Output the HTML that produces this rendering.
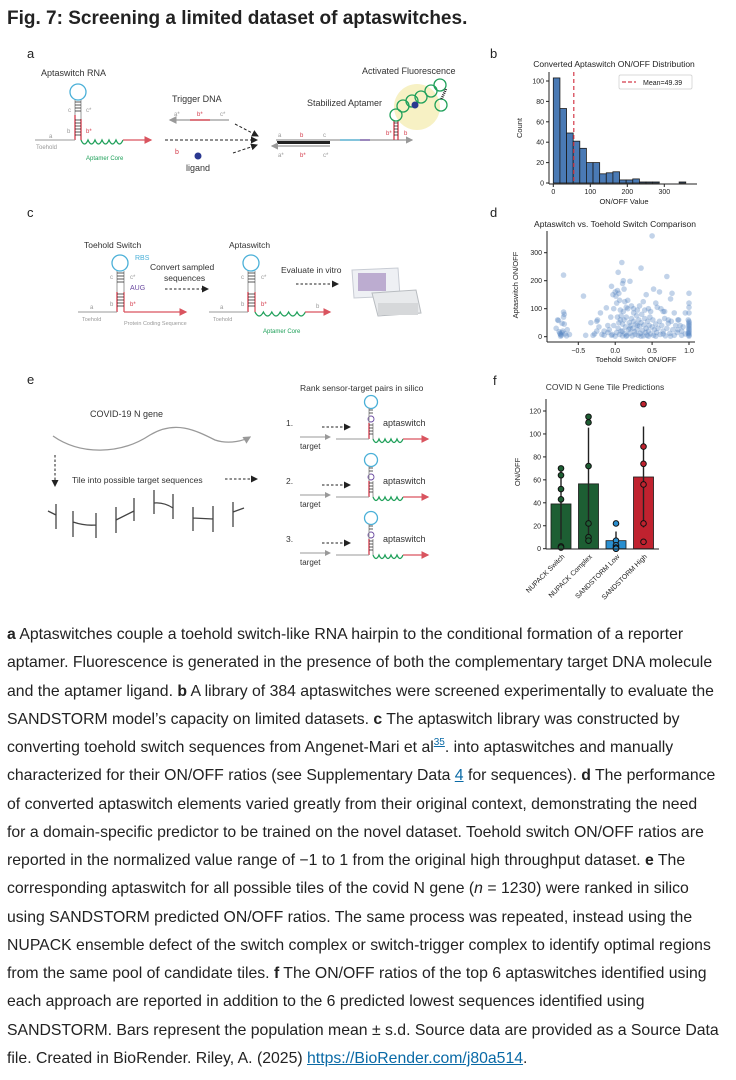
<!DOCTYPE html>
<html><head><meta charset="utf-8">
<style>
html,body{margin:0;padding:0;background:#fff;}
body{width:736px;height:1080px;position:relative;overflow:hidden;font-family:"Liberation Sans",sans-serif;}
#title{position:absolute;left:7px;top:8px;font-size:19px;font-weight:bold;color:#222;}
#fig{position:absolute;left:0;top:0;}
#caption{position:absolute;left:7px;top:621px;font-size:15.8px;line-height:28.25px;color:#222;white-space:nowrap;}
#caption sup{line-height:0;vertical-align:7px;font-size:10px;}
#caption a{color:#0a6aa6;text-decoration:underline;}
svg text{font-family:"Liberation Sans",sans-serif;}
</style></head>
<body>
<div id="title">Fig. 7: Screening a limited dataset of aptaswitches.</div>
<svg id="fig" width="736" height="615" viewBox="0 0 736 615">
<defs>
<marker id="ag" markerWidth="6" markerHeight="6" refX="5" refY="3" orient="auto"><path d="M0,0L6,3L0,6z" fill="#999"/></marker>
<marker id="ar" markerWidth="6" markerHeight="6" refX="5" refY="3" orient="auto"><path d="M0,0L6,3L0,6z" fill="#d9545f"/></marker>
<marker id="ak" markerWidth="7" markerHeight="7" refX="6" refY="3.5" orient="auto"><path d="M0,0L7,3.5L0,7z" fill="#222"/></marker>
</defs>
<g font-size="8">
<text x="27" y="58" font-size="13" fill="#222">a</text>
<text x="41" y="76" font-size="9" fill="#333">Aptaswitch RNA</text>
<circle cx="78" cy="92" r="8" fill="none" stroke="#4ab0d8" stroke-width="1.3"/>
<line x1="75" y1="100" x2="75" y2="140" stroke="#999"/><line x1="81" y1="100" x2="81" y2="140" stroke="#999"/>
<line x1="75" y1="115" x2="75" y2="140" stroke="#d43a4a" stroke-width="1.3"/><line x1="81" y1="119" x2="81" y2="140" stroke="#d43a4a" stroke-width="1.3"/>
<path d="M75,102h6M75,105h6M75,108h6M75,111h6M75,120h6M75,123h6M75,126h6M75,129h6M75,132h6M75,135h6" stroke="#222" stroke-width="0.8"/>
<line x1="35" y1="140" x2="75" y2="140" stroke="#999"/>
<path d="M81,140 q3.5,8 7,0 q3.5,8 7,0 q3.5,8 7,0 q3.5,8 7,0 q3.5,8 7,0 q3.5,8 7,0" fill="none" stroke="#1fa05a" stroke-width="1.3"/>
<line x1="123" y1="140" x2="151" y2="140" stroke="#d9545f" stroke-width="1.3" marker-end="url(#ar)"/>
<text x="49" y="138" fill="#999" font-size="6">a</text><text x="67" y="133" fill="#999" font-size="6">b</text>
<text x="68" y="112" fill="#999" font-size="6">c</text><text x="86" y="112" fill="#999" font-size="6">c*</text>
<text x="86" y="133" fill="#d43a4a" font-size="6">b*</text>
<text x="36" y="149" fill="#999" font-size="6">Toehold</text>
<text x="86" y="160" fill="#1fa05a" font-size="6">Aptamer Core</text>
<text x="172" y="102" font-size="9" fill="#333">Trigger DNA</text>
<line x1="229" y1="120" x2="170" y2="120" stroke="#999" stroke-width="1.3" marker-end="url(#ag)"/>
<line x1="190" y1="120" x2="210" y2="120" stroke="#d9545f" stroke-width="1.5"/>
<text x="174" y="116" fill="#999" font-size="6">a*</text><text x="197" y="116" fill="#d43a4a" font-size="6">b*</text><text x="220" y="116" fill="#999" font-size="6">c*</text>
<path d="M235,124 L258,136" stroke="#222" stroke-dasharray="3,2" marker-end="url(#ak)"/>
<path d="M165,140 L257,140" stroke="#222" stroke-dasharray="3,2" marker-end="url(#ak)"/>
<path d="M233,153 L257,145" stroke="#222" stroke-dasharray="3,2" marker-end="url(#ak)"/>
<text x="175" y="154" fill="#d43a4a" font-size="7">b</text>
<circle cx="198" cy="156" r="3.5" fill="#2a3890"/>
<text x="186" y="171" font-size="9" fill="#333">ligand</text>
<line x1="276" y1="140" x2="412" y2="140" stroke="#999" stroke-width="1.2" marker-end="url(#ag)"/>
<line x1="340" y1="140" x2="360" y2="140" stroke="#4ab0d8" stroke-width="1.2"/>
<line x1="360" y1="140" x2="370" y2="140" stroke="#6a4aa0" stroke-width="1.2"/>
<rect x="277" y="141" width="53" height="3" fill="#222"/>
<line x1="330" y1="146" x2="272" y2="146" stroke="#999" stroke-width="1.2" marker-end="url(#ag)"/>
<text x="278" y="137" fill="#999" font-size="6">a</text><text x="300" y="137" fill="#d43a4a" font-size="6">b</text><text x="323" y="137" fill="#999" font-size="6">c</text>
<text x="278" y="157" fill="#999" font-size="6">a*</text><text x="300" y="157" fill="#d43a4a" font-size="6">b*</text><text x="323" y="157" fill="#999" font-size="6">c*</text>
<text x="386" y="135" fill="#d43a4a" font-size="6">b*</text><text x="404" y="135" fill="#d43a4a" font-size="6">b</text>
<circle cx="417" cy="107" r="23" fill="#f7f1c4"/>
<line x1="394" y1="120" x2="394" y2="140" stroke="#d43a4a" stroke-width="1.3"/><line x1="398" y1="120" x2="398" y2="140" stroke="#d43a4a" stroke-width="1.3"/>
<path d="M394,123h4M394,126h4M394,129h4M394,132h4M394,135h4" stroke="#222" stroke-width="0.8"/>
<g fill="none" stroke="#1fa05a" stroke-width="1.3">
<circle cx="396" cy="115" r="6"/><circle cx="403" cy="106" r="6"/><circle cx="412" cy="101" r="6"/><circle cx="421" cy="97" r="6"/><circle cx="431" cy="91" r="6"/><circle cx="440" cy="85" r="6"/><circle cx="441" cy="105" r="6"/>
</g>
<path d="M446,89 L441,100" stroke="#222" stroke-width="2.5" stroke-dasharray="1,1"/>
<circle cx="415" cy="105" r="3.5" fill="#2a3890"/>
<text x="307" y="106" font-size="9" fill="#333">Stabilized Aptamer</text>
<text x="362" y="74" font-size="9" fill="#333">Activated Fluorescence</text>
</g>
<g>
<text x="27" y="217" font-size="13" fill="#222">c</text>
<text x="84" y="248" font-size="8.5" fill="#333">Toehold Switch</text>
<circle cx="120" cy="263" r="8" fill="none" stroke="#4ab0d8" stroke-width="1.3"/>
<line x1="117" y1="271" x2="117" y2="312" stroke="#999"/><line x1="124" y1="271" x2="124" y2="312" stroke="#999"/>
<line x1="117" y1="292" x2="117" y2="312" stroke="#d43a4a" stroke-width="1.3"/><line x1="124" y1="292" x2="124" y2="312" stroke="#d9545f" stroke-width="1.3"/>
<path d="M117,273h7M117,276h7M117,279h7M117,282h7M117,294h7M117,297h7M117,300h7M117,303h7M117,306h7" stroke="#222" stroke-width="0.8"/>
<line x1="78" y1="312" x2="117" y2="312" stroke="#999"/>
<line x1="124" y1="312" x2="186" y2="312" stroke="#d9545f" stroke-width="1.3" marker-end="url(#ar)"/>
<text x="135" y="260" font-size="7" fill="#4ab0d8">RBS</text>
<text x="130" y="290" font-size="7" fill="#6a4aa0">AUG</text>
<text x="110" y="279" font-size="6" fill="#999">c</text><text x="130" y="279" font-size="6" fill="#999">c*</text>
<text x="110" y="306" font-size="6" fill="#999">b</text><text x="130" y="306" font-size="6" fill="#d43a4a">b*</text>
<text x="90" y="309" font-size="6" fill="#999">a</text>
<text x="82" y="321" font-size="5.5" fill="#999">Toehold</text>
<text x="124" y="325" font-size="5.5" fill="#999">Protein Coding Sequence</text>
<text x="150" y="270" font-size="8.5" fill="#333">Convert sampled</text>
<text x="164" y="281" font-size="8.5" fill="#333">sequences</text>
<path d="M165,289 L208,289" stroke="#222" stroke-dasharray="2.5,2" marker-end="url(#ak)"/>
<text x="229" y="248" font-size="8.5" fill="#333">Aptaswitch</text>
<circle cx="251" cy="263" r="8" fill="none" stroke="#4ab0d8" stroke-width="1.3"/>
<line x1="248" y1="271" x2="248" y2="312" stroke="#999"/><line x1="255" y1="271" x2="255" y2="312" stroke="#999"/>
<line x1="248" y1="292" x2="248" y2="312" stroke="#d43a4a" stroke-width="1.3"/><line x1="255" y1="292" x2="255" y2="312" stroke="#d9545f" stroke-width="1.3"/>
<path d="M248,273h7M248,276h7M248,279h7M248,282h7M248,294h7M248,297h7M248,300h7M248,303h7M248,306h7" stroke="#222" stroke-width="0.8"/>
<line x1="209" y1="312" x2="248" y2="312" stroke="#999"/>
<path d="M255,312 q4.2,8 8.4,0 q4.2,8 8.4,0 q4.2,8 8.4,0 q4.2,8 8.4,0 q4.2,8 8.4,0 q4.2,8 8.4,0" fill="none" stroke="#1fa05a" stroke-width="1.3"/>
<line x1="305" y1="312" x2="330" y2="312" stroke="#d9545f" stroke-width="1.3" marker-end="url(#ar)"/>
<text x="241" y="279" font-size="6" fill="#999">c</text><text x="261" y="279" font-size="6" fill="#999">c*</text>
<text x="241" y="306" font-size="6" fill="#999">b</text><text x="261" y="306" font-size="6" fill="#d43a4a">b*</text>
<text x="220" y="309" font-size="6" fill="#999">a</text><text x="316" y="308" font-size="6" fill="#999">b</text>
<text x="213" y="321" font-size="5.5" fill="#999">Toehold</text>
<text x="263" y="333" font-size="6" fill="#1fa05a">Aptamer Core</text>
<text x="281" y="273" font-size="8.5" fill="#333">Evaluate in vitro</text>
<path d="M296,284 L338,284" stroke="#222" stroke-dasharray="2.5,2" marker-end="url(#ak)"/>
<polygon points="352,270 398,268 400,296 354,298" fill="#eef0f4" stroke="#c8ccd4"/>
<g fill="#9b7fb8"><rect x="358" y="273" width="28" height="18" opacity="0.6"/></g>
<polygon points="372,293 416,290 421,313 378,316" fill="#e8eaec" stroke="#b8bcc0"/>
<rect x="378" y="303" width="40" height="12" fill="#d6d8da"/>
</g>
<g>
<text x="27" y="384" font-size="13" fill="#222">e</text>
<text x="90" y="417" font-size="9" fill="#333">COVID-19 N gene</text>
<path d="M53,436 C80,455 120,455 150,435 C175,420 195,430 215,440 C230,445 245,440 250,437" fill="none" stroke="#999" stroke-width="1.3" marker-end="url(#ag)"/>
<path d="M55,455 L55,486" stroke="#222" stroke-dasharray="2.5,2" marker-end="url(#ak)"/>
<text x="72" y="483" font-size="8.5" fill="#333">Tile into possible target sequences</text>
<path d="M225,479 L257,479" stroke="#222" stroke-dasharray="2.5,2" marker-end="url(#ak)"/>
<g stroke="#444" stroke-width="1.3" fill="none">
<path d="M56,504 L56,529 M48,511 L56,515"/>
<path d="M73,511 L73,537 M96,513 L96,538 M73,522 Q85,526 96,525"/>
<path d="M116,507 L116,533 M134,498 L134,521 M116,520 L134,511"/>
<path d="M154,490 L154,514 M173,494 L173,519 M154,503 Q164,502 173,508"/>
<path d="M193,507 L193,531 M213,506 L213,532 M193,518 L213,519"/>
<path d="M233,502 L233,527 M233,512 L244,508"/>
</g>
<text x="300" y="391" font-size="8.5" fill="#333">Rank sensor-target pairs in silico</text>
<g id="rows"></g>
</g>
<g id="chartB"></g>
<g id="chartD"></g>
<g id="chartF"></g>
</svg>
<div id="caption"><b>a</b> Aptaswitches couple a toehold switch-like RNA hairpin to the conditional formation of a reporter<br>aptamer. Fluorescence is generated in the presence of both the complementary target DNA molecule<br>and the aptamer ligand. <b>b</b> A library of 384 aptaswitches were screened experimentally to evaluate the<br>SANDSTORM model’s capacity on limited datasets. <b>c</b> The aptaswitch library was constructed by<br>converting toehold switch sequences from Angenet-Mari et al<sup><a>35</a></sup>. into aptaswitches and manually<br>characterized for their ON/OFF ratios (see Supplementary Data <a>4</a> for sequences). <b>d</b> The performance<br>of converted aptaswitch elements varied greatly from their original context, demonstrating the need<br>for a domain-specific predictor to be trained on the novel dataset. Toehold switch ON/OFF ratios are<br>reported in the normalized value range of −1 to 1 from the original high throughput dataset. <b>e</b> The<br>corresponding aptaswitch for all possible tiles of the covid N gene (<i>n</i> = 1230) were ranked in silico<br>using SANDSTORM predicted ON/OFF ratios. The same process was repeated, instead using the<br>NUPACK ensemble defect of the switch complex or switch-trigger complex to identify optimal regions<br>from the same pool of candidate tiles. <b>f</b> The ON/OFF ratios of the top 6 aptaswitches identified using<br>each approach are reported in addition to the 6 predicted lowest sequences identified using<br>SANDSTORM. Bars represent the population mean ± s.d. Source data are provided as a Source Data<br>file. Created in BioRender. Riley, A. (2025) <a>https://BioRender.com/j80a514</a>.</div>
<script>
const histCounts = [103,73,49,41,34,20,20,9,10,11,3,3,4,1,1,1,0,0,0,1];
const histBinWidth = 17.9;
const histMean = 49.39;
const histYTicks = [0,20,40,60,80,100];
const histXTicks = [0,100,200,300];
const scatterX = [-0.78,-0.77,-0.8,-0.76,-0.75,-0.74,-0.73,-0.72,-0.71,-0.7,-0.7,-0.69,-0.7,-0.69,-0.72,-0.68,-0.65,-0.62,-0.74,-0.66,
-0.43,-0.4,-0.33,-0.28,-0.25,-0.24,-0.22,-0.2,-0.18,-0.15,-0.12,-0.1,-0.08,-0.06,-0.05,-0.04,-0.03,-0.02,0.0,0.01,0.02,0.03,0.04,0.05,0.06,0.07,0.08,0.09,0.1,0.11,0.12,0.13,0.15,0.17,0.2,0.22,0.25,0.3,0.35,0.38,0.42,0.45,0.5,0.52,0.55,0.6,0.62,0.65,0.7,0.72,0.75,0.77,0.8,0.85,0.88,0.9,0.95,
1,1,1,1,1,1,1,1,1,1,1,1,1,1,1,1,0.99,0.99,
-0.05,0,0.02,0.04,0.05,0.06,0.08,0.1,0.1,0.12,0.13,0.14,0.15,0.16,0.18,0.19,0.2,0.21,0.22,0.23,0.24,0.25,0.26,0.27,0.28,0.29,0.3,0.31,0.32,0.33,0.34,0.35,0.36,0.37,0.38,0.39,0.4,0.41,0.42,0.43,0.44,0.45,0.46,0.47,0.48,0.5,0.51,0.52,0.53,0.55,0.56,0.58,0.6,0.61,0.63,0.65,0.67,0.68,0.7,0.72,0.74,0.76,0.78,0.8,0.82,0.84,0.86,0.9,0.92,0.95,-0.02,0.03,0.07,0.11,0.17,0.25,0.33,0.4,0.48,0.57,0.67,0.1,0.2,0.3,0.15,0.35,0.45,0.55,0.65,0.75,0.85,-0.15,-0.1,-0.3,-0.25];
const scatterY = [60,58,30,18,12,8,5,15,20,220,88,80,70,45,48,10,25,8,2,3,
145,5,50,10,55,60,35,85,8,20,103,40,25,70,180,8,150,100,160,145,120,165,230,155,130,95,75,265,190,200,170,125,105,130,198,110,85,95,245,125,150,100,360,170,120,160,100,90,215,60,135,155,85,60,40,20,85,
155,120,105,85,55,50,45,40,35,30,25,20,15,10,5,2,60,12,
5,2,15,30,50,8,20,45,3,60,10,35,70,5,25,50,12,40,65,3,30,55,18,8,45,75,25,5,60,38,12,50,80,22,3,42,65,15,30,5,55,20,40,70,10,35,60,5,25,45,15,30,55,8,40,20,65,3,30,48,12,55,25,5,40,15,60,5,35,10,40,70,60,90,100,100,110,95,90,105,90,20,30,40,2,2,2,2,10,2,25,5,15,5,20];
const scatterXTicks = [-0.5,0.0,0.5,1.0];
const scatterYTicks = [0,100,200,300];
const barCats = ["NUPACK Switch","NUPACK Complex","SANDSTORM Low","SANDSTORM High"];
const barMeans = [39,56.5,7,62.5];
const barSD = [31,49,8,44];
const barPoints = [[70,64,52,43,2,1],[115,110,72,22,10,7],[22,7,3,1,0,0],[126,89,74,56,22,6]];
const barColors = ["#1d5e33","#1d5e33","#2a8fd0","#c0222f"];
const barYTicks = [0,20,40,60,80,100,120];

const NS="http://www.w3.org/2000/svg";
function mk(parent,tag,attrs,txt){const e=document.createElementNS(NS,tag);for(const k in attrs)e.setAttribute(k,attrs[k]);if(txt!==undefined)e.textContent=txt;parent.appendChild(e);return e;}

(function(){
  const g=document.getElementById('rows');
  [0,1,2].forEach(i=>{
    const dy=i*58;
    const r=mk(g,'g',{});
    
    
    mk(r,'text',{x:286,y:426+dy,'font-size':8.5,fill:'#333'},(i+1)+'.');
    mk(r,'path',{d:`M322,${427+dy} L350,${427+dy}`,stroke:'#222','stroke-dasharray':'2.5,2','marker-end':'url(#ak)'});
    mk(r,'line',{x1:300,y1:437+dy,x2:330,y2:437+dy,stroke:'#999','marker-end':'url(#ag)'});
    mk(r,'text',{x:300,y:449+dy,'font-size':8,fill:'#333'},'target');
    mk(r,'circle',{cx:371,cy:402+dy,r:6.5,fill:'none',stroke:'#4ab0d8','stroke-width':1.3});
    mk(r,'circle',{cx:371,cy:419+dy,r:3,fill:'none',stroke:'#6a4aa0','stroke-width':0.9});
    mk(r,'line',{x1:369,y1:408+dy,x2:369,y2:439+dy,stroke:'#999'});
    mk(r,'line',{x1:369,y1:423+dy,x2:369,y2:439+dy,stroke:'#d43a4a','stroke-width':1.3});
    mk(r,'line',{x1:373,y1:423+dy,x2:373,y2:439+dy,stroke:'#999'});
    mk(r,'path',{d:`M369,${410+dy}h4M369,${413+dy}h4M369,${425+dy}h4M369,${428+dy}h4M369,${431+dy}h4M369,${434+dy}h4`,stroke:'#222','stroke-width':0.8});
    mk(r,'line',{x1:336,y1:439+dy,x2:369,y2:439+dy,stroke:'#999'});
    mk(r,'path',{d:`M373,${439+dy} q3,7 6,0 q3,7 6,0 q3,7 6,0 q3,7 6,0 q3,7 6,0`,fill:'none',stroke:'#1fa05a','stroke-width':1.3});
    mk(r,'line',{x1:403,y1:439+dy,x2:428,y2:439+dy,stroke:'#d9545f','stroke-width':1.3,'marker-end':'url(#ar)'});
    mk(r,'text',{x:383,y:426+dy,'font-size':9,fill:'#333'},'aptaswitch');
  });
})();

(function(){
  const g=document.getElementById('chartB');
  const x=v=>553.3+v*0.37, y=c=>183-c*1.02;
  mk(g,'text',{x:490,y:58,'font-size':13,fill:'#222'},'b');
  mk(g,'text',{x:614,y:67,'font-size':8.5,'text-anchor':'middle',fill:'#222'},'Converted Aptaswitch ON/OFF Distribution');
  histCounts.forEach((c,i)=>{
    const b=mk(g,'rect',{x:x(i*histBinWidth),y:y(c),width:histBinWidth*0.37,height:c*1.02,fill:'#4a7ab5',stroke:'#1a1a1a','stroke-width':0.8});
    
    
  });
  mk(g,'line',{x1:x(histMean+6),y1:72,x2:x(histMean+6),y2:183,stroke:'#d43a4a','stroke-width':1.2,'stroke-dasharray':'4,3'});
  mk(g,'line',{x1:549,y1:72,x2:549,y2:184,stroke:'#222'});
  mk(g,'line',{x1:549,y1:184,x2:697,y2:184,stroke:'#222'});
  histYTicks.forEach(t=>{mk(g,'line',{x1:546,y1:y(t),x2:549,y2:y(t),stroke:'#222'});mk(g,'text',{x:544,y:y(t)+2.5,'font-size':7,'text-anchor':'end',fill:'#222'},t);});
  histXTicks.forEach(t=>{mk(g,'line',{x1:x(t),y1:184,x2:x(t),y2:187,stroke:'#222'});mk(g,'text',{x:x(t),y:194,'font-size':7,'text-anchor':'middle',fill:'#222'},t);});
  mk(g,'text',{x:624,y:204,'font-size':7.5,'text-anchor':'middle',fill:'#222'},'ON/OFF Value');
  mk(g,'text',{x:522,y:128,'font-size':7.5,'text-anchor':'middle',fill:'#222',transform:'rotate(-90 522 128)'},'Count');
  const lg=mk(g,'g',{});
  
  
  mk(lg,'rect',{x:619,y:75,width:73,height:14,fill:'#fff',stroke:'#ccc','stroke-width':0.7,rx:1.5});
  mk(lg,'line',{x1:622,y1:82,x2:636,y2:82,stroke:'#d43a4a','stroke-width':1.2,'stroke-dasharray':'4,2'});
  mk(lg,'text',{x:643,y:85,'font-size':7,fill:'#222'},'Mean='+histMean.toFixed(2));
})();

(function(){
  const g=document.getElementById('chartD');
  const x=v=>615.2+v*73.8, y=v=>336.7-v*0.28;
  mk(g,'text',{x:490,y:217,'font-size':13,fill:'#222'},'d');
  mk(g,'text',{x:615,y:227,'font-size':8.5,'text-anchor':'middle',fill:'#222'},'Aptaswitch vs. Toehold Switch Comparison');
  scatterX.forEach((v,i)=>{
    const c=mk(g,'circle',{cx:x(v),cy:y(scatterY[i]),r:2.8,fill:'#4f82c0','fill-opacity':0.35});
    
    
  });
  mk(g,'line',{x1:547,y1:231,x2:547,y2:342,stroke:'#222'});
  mk(g,'line',{x1:547,y1:342,x2:695,y2:342,stroke:'#222'});
  scatterYTicks.forEach(t=>{mk(g,'line',{x1:544,y1:y(t),x2:547,y2:y(t),stroke:'#222'});mk(g,'text',{x:542,y:y(t)+2.5,'font-size':7,'text-anchor':'end',fill:'#222'},t);});
  scatterXTicks.forEach(t=>{mk(g,'line',{x1:x(t),y1:342,x2:x(t),y2:345,stroke:'#222'});mk(g,'text',{x:x(t),y:353,'font-size':7,'text-anchor':'middle',fill:'#222'},(t<0?'\u2212':'')+Math.abs(t).toFixed(1));});
  mk(g,'text',{x:636,y:362,'font-size':7.5,'text-anchor':'middle',fill:'#222'},'Toehold Switch ON/OFF');
  mk(g,'text',{x:518,y:285,'font-size':7.5,'text-anchor':'middle',fill:'#222',transform:'rotate(-90 518 285)'},'Aptaswitch ON/OFF');
})();

(function(){
  const g=document.getElementById('chartF');
  const y=v=>548.7-v*1.1475;
  const cx=i=>561+i*27.5;
  mk(g,'text',{x:493,y:385,'font-size':13,fill:'#222'},'f');
  mk(g,'text',{x:605,y:390,'font-size':8.5,'text-anchor':'middle',fill:'#333'},'COVID N Gene Tile Predictions');
  barMeans.forEach((m,i)=>{
    const b=mk(g,'rect',{x:cx(i)-10,y:y(m),width:20,height:m*1.1475,fill:barColors[i],stroke:'#1a1a1a','stroke-width':0.8});
    
    
    mk(g,'line',{x1:cx(i),y1:y(Math.max(0,m-barSD[i])),x2:cx(i),y2:y(m+barSD[i]),stroke:'#222','stroke-width':1.4});
    barPoints[i].forEach(p=>{
      const c=mk(g,'circle',{cx:cx(i),cy:y(p),r:2.8,fill:barColors[i],stroke:'#111','stroke-width':1});
      
      
    });
    mk(g,'text',{x:cx(i)+4,y:557,'font-size':7,'text-anchor':'end',fill:'#222',transform:`rotate(-45 ${cx(i)+4} 557)`},barCats[i]);
  });
  mk(g,'line',{x1:546,y1:399,x2:546,y2:549,stroke:'#222'});
  mk(g,'line',{x1:546,y1:549,x2:659,y2:549,stroke:'#222'});
  barYTicks.forEach(t=>{mk(g,'line',{x1:543,y1:y(t),x2:546,y2:y(t),stroke:'#222'});mk(g,'text',{x:541,y:y(t)+2.5,'font-size':7,'text-anchor':'end',fill:'#222'},t);});
  mk(g,'text',{x:520,y:472,'font-size':7.5,'text-anchor':'middle',fill:'#222',transform:'rotate(-90 520 472)'},'ON/OFF');
})();
</script>
</body></html>
